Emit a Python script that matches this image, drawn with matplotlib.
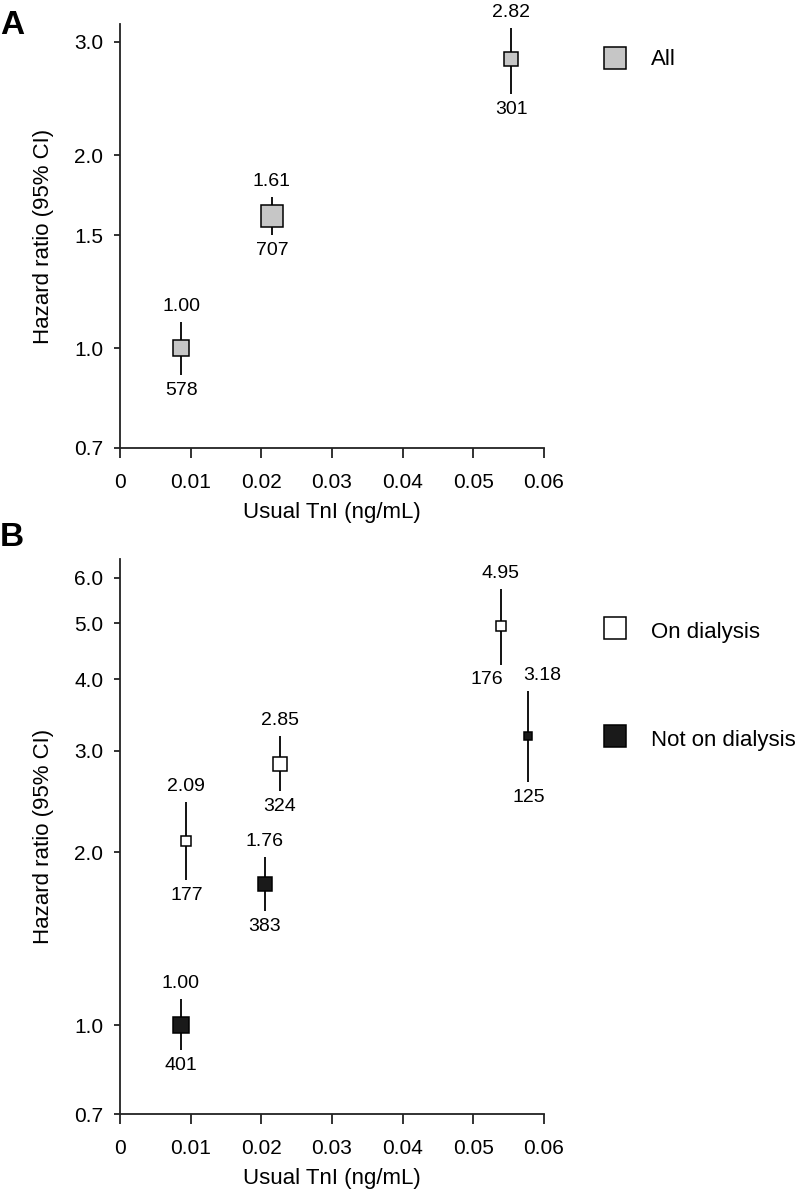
import numpy as np
import matplotlib
matplotlib.use("Agg")
import matplotlib.pyplot as plt
from matplotlib.lines import Line2D

plt.rcParams['font.family'] = ['Liberation Sans', 'DejaVu Sans']

# panel A: all patients
all_x = [0.0087, 0.0215, 0.0554]
all_hr = [1.00, 1.61, 2.82]
all_lo = [0.91, 1.50, 2.49]
all_hi = [1.10, 1.72, 3.15]
all_n = [578, 707, 301]

# panel B: on dialysis
dial_x = [0.0094, 0.0226, 0.0539]
dial_hr = [2.09, 2.85, 4.95]
dial_lo = [1.79, 2.55, 4.24]
dial_hi = [2.44, 3.19, 5.74]
dial_n = [177, 324, 176]

# panel B: not on dialysis
nodial_x = [0.0086, 0.0205, 0.0578]
nodial_hr = [1.00, 1.76, 3.18]
nodial_lo = [0.905, 1.58, 2.65]
nodial_hi = [1.11, 1.96, 3.81]
nodial_n = [401, 383, 125]

xticks = [0, 0.01, 0.02, 0.03, 0.04, 0.05, 0.06]
xticklabels = ['0', '0.01', '0.02', '0.03', '0.04', '0.05', '0.06']
yticks_a = [0.7, 1.0, 1.5, 2.0, 3.0]
yticks_b = [0.7, 1.0, 2.0, 3.0, 4.0, 5.0, 6.0]

FS = 14
DPI = 100


def box_size(lo, hi):
    # box side ~ inverse of CI width on the log scale (pixels -> points)
    px = 3.1 / np.log(hi / lo)
    return px * 72 / DPI


def draw_series(ax, x, hr, lo, hi, n, color, nudge=None):
    ax.vlines(x, lo, hi, color='black', lw=1.3, zorder=2)
    for i in range(len(x)):
        ax.plot(x[i], hr[i], marker='s', ms=box_size(lo[i], hi[i]),
                mfc=color, mec='black', mew=1.1, ls='none', zorder=3)
        dx_top, dx_bot = (0, 0) if nudge is None else nudge[i]
        ax.annotate(f'{hr[i]:.2f}', (x[i], hi[i]), xytext=(dx_top, 5),
                    textcoords='offset points', ha='center', va='bottom', fontsize=FS)
        ax.annotate(str(n[i]), (x[i], lo[i]), xytext=(dx_bot, -5),
                    textcoords='offset points', ha='center', va='top', fontsize=FS)


def style_axis(ax, yticks, ylim, height_px):
    ax.set_yscale('log')
    ax.set_xlim(0, 0.06)
    ax.set_ylim(*ylim)
    ax.set_xticks(xticks)
    ax.set_xticklabels(xticklabels)
    ax.set_yticks(yticks)
    ax.set_yticklabels([f'{t:.1f}' for t in yticks])
    ax.yaxis.set_minor_locator(matplotlib.ticker.NullLocator())
    ax.spines['top'].set_visible(False)
    ax.spines['right'].set_visible(False)
    for s in ['left', 'bottom']:
        ax.spines[s].set_linewidth(1.3)
        ax.spines[s].set_color('#222222')
    ax.tick_params(axis='x', length=7, width=1.3, labelsize=15, pad=11, color='#222222')
    ax.tick_params(axis='y', length=4, width=1.3, labelsize=15, pad=8, color='#222222')
    ax.set_xlabel('Usual TnI (ng/mL)', fontsize=16)
    ax.set_ylabel('Hazard ratio (95% CI)', fontsize=16)
    ax.xaxis.set_label_coords(0.5, -54 / height_px)
    ax.yaxis.set_label_coords(-0.156, 0.5)


fig = plt.figure(figsize=(8, 11.92), dpi=DPI)
ax_a = fig.add_axes([0.15, 0.6242, 0.53, 0.3557])
ax_b = fig.add_axes([0.15, 0.0654, 0.53, 0.4656])

# panel A
draw_series(ax_a, all_x, all_hr, all_lo, all_hi, all_n, '#c6c6c6')
style_axis(ax_a, yticks_a, (0.7, 3.2), 424)
h_all = Line2D([], [], marker='s', ms=16.5, mfc='#c6c6c6', mec='black', mew=1.1, ls='none')
ax_a.legend([h_all], ['All'], loc='center left', bbox_to_anchor=(1.140, 0.915),
            frameon=False, fontsize=16, borderpad=0, borderaxespad=0,
            handlelength=1.05, handletextpad=1.1)

# panel B (labels for the last pair pushed apart so they do not collide)
draw_series(ax_b, dial_x, dial_hr, dial_lo, dial_hi, dial_n, 'white',
            nudge=[(0, 0), (0, 0), (0, -10)])
draw_series(ax_b, nodial_x, nodial_hr, nodial_lo, nodial_hi, nodial_n, '#1a1a1a',
            nudge=[(0, 0), (0, 0), (10, 0)])
style_axis(ax_b, yticks_b, (0.7, 6.47), 555)
h_on = Line2D([], [], marker='s', ms=16.5, mfc='white', mec='black', mew=1.1, ls='none')
h_off = Line2D([], [], marker='s', ms=16.5, mfc='#1a1a1a', mec='black', mew=1.1, ls='none')
ax_b.legend([h_on, h_off], ['On dialysis', 'Not on dialysis'], loc='center left',
            bbox_to_anchor=(1.140, 0.773), frameon=False, fontsize=16, borderpad=0,
            borderaxespad=0, handlelength=1.05, handletextpad=1.1, handleheight=1.5,
            labelspacing=3.65)

fig.text(0.0, 1 - 25 / 1192, 'A', fontsize=24, fontweight='bold', va='center', ha='left')
fig.text(0.0, 1 - 538 / 1192, 'B', fontsize=24, fontweight='bold', va='center', ha='left')

fig.savefig('out.png', dpi=DPI)
